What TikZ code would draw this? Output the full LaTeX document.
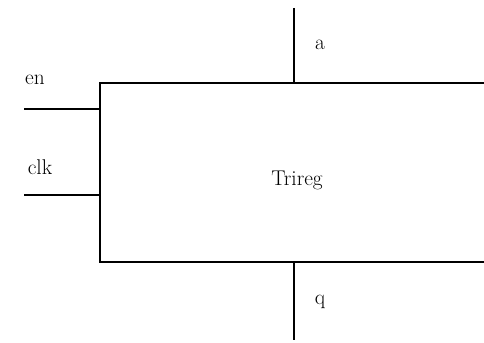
\documentclass[tikz,border=0pt]{standalone}
\usepackage{tikz}
\usetikzlibrary{positioning, calc}

\begin{document}
\begin{tikzpicture}[x=0.75pt, y=0.75pt, line width=1pt, font=\fontsize{16}{18}\selectfont]
  \useasboundingbox (0,0) rectangle (484,342);
  \clip (0,0) rectangle (484,342);
  \node[draw, minimum width=388*0.75pt, minimum height=179*0.75pt, inner sep=0pt] (R) at (294, 169.5) {};
  \node (T) at (297, 162) {Trireg};
  \coordinate (Ain) at (294, 334);
  \coordinate (Qout) at (294, 2);
  \coordinate (ENin) at (24, 233);
  \coordinate (CLKin) at (24, 147);
  \draw (Ain) -- (Ain |- R.north);
  \draw (R.south -| Qout) -- (Qout);
  \draw (ENin) -- (ENin -| R.west);
  \draw (CLKin) -- (CLKin -| R.west);
  \node (A) at (320, 297) {a};
  \node (Q) at (320, 40) {q};
  \node (EN) at (35, 262) {en};
  \node (CLK) at (40, 175) {clk};
\end{tikzpicture}
\end{document}
